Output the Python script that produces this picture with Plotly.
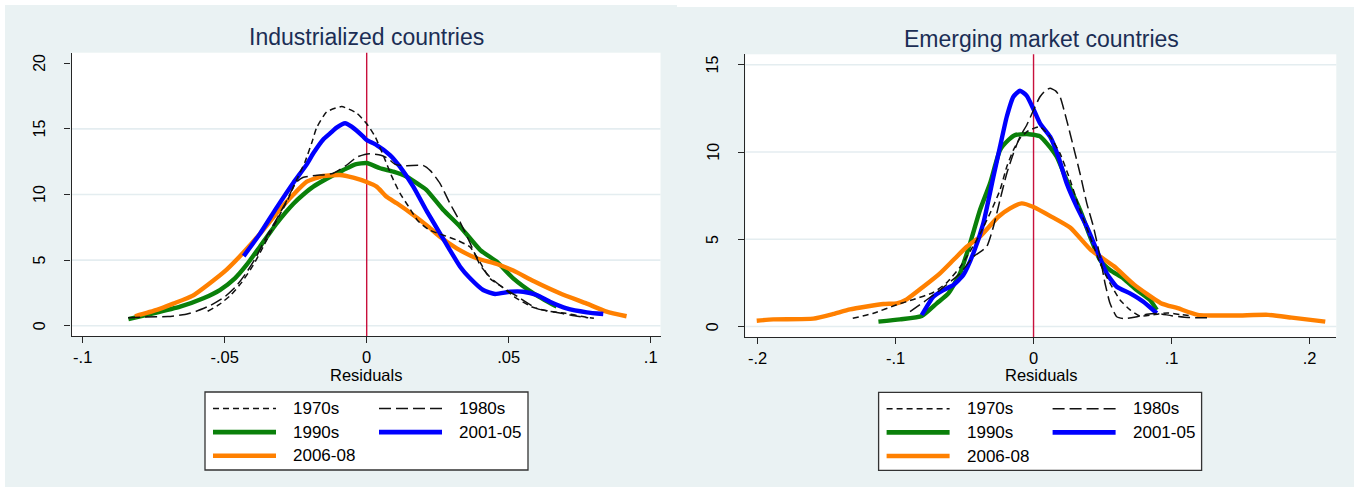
import plotly.graph_objects as go

W, H = 1354, 489

# ---------------- data ----------------
SERIES = ["1970s", "1980s", "1990s", "2001-05", "2006-08"]
COLORS = ["#111111", "#111111", "#0A800A", "#0000FF", "#FF8000"]
DASHES = ["6px,4px", "12px,5px", "solid", "solid", "solid"]
WIDTHS = [1.5, 1.5, 4.4, 4.4, 4.4]

# Industrialized countries
IND_X_1970 = [-0.056, -0.052, -0.048, -0.044, -0.040, -0.036, -0.032, -0.028, -0.0245, -0.0217, -0.0194,
              -0.0176, -0.0141, -0.0088, -0.0035, 0.0, 0.003, 0.006, 0.0088, 0.0117, 0.0147, 0.018, 0.022,
              0.027, 0.032, 0.0364, 0.040, 0.0434, 0.048, 0.052, 0.058, 0.064, 0.070, 0.076, 0.080]
IND_Y_1970 = [1.1, 1.6, 2.3, 3.3, 4.6, 6.2, 7.9, 9.5, 11.2, 12.5, 13.9, 15.1, 16.3, 16.7, 16.2, 15.4, 14.4,
              12.9, 11.4, 10.1, 9.1, 8.0, 7.3, 6.9, 6.5, 6.0, 4.8, 3.6, 2.9, 2.2, 1.45, 1.1, 0.95, 0.7, 0.56]
IND_X_1980 = [-0.084, -0.078, -0.070, -0.064, -0.060, -0.055, -0.050, -0.046, -0.0425, -0.039, -0.035,
              -0.031, -0.028, -0.025, -0.0225, -0.018, -0.012, -0.007, -0.0035, 0.001, 0.005, 0.0075, 0.010,
              0.014, 0.020, 0.0225, 0.0258, 0.0293, 0.0329, 0.0364, 0.040, 0.0434, 0.048, 0.054, 0.060,
              0.066, 0.072, 0.078]
IND_Y_1980 = [0.6, 0.66, 0.7, 0.85, 1.1, 1.55, 2.2, 3.0, 4.0, 5.2, 6.9, 8.4, 9.6, 10.9, 11.3, 11.45, 11.6,
              12.25, 12.85, 13.1, 13.0, 12.75, 12.3, 12.2, 12.2, 11.8, 10.85, 9.33, 7.9, 6.3, 4.6, 3.7, 2.9,
              2.1, 1.3, 1.05, 0.8, 0.6]
IND_X_1990 = [-0.0839, -0.0751, -0.0657, -0.0575, -0.0517, -0.0464, -0.0423, -0.0376, -0.0317, -0.0258,
              -0.0223, -0.0188, -0.0141, -0.0082, -0.004, 0.0, 0.0047, 0.0094, 0.0141, 0.0188, 0.0211,
              0.027, 0.0329, 0.040, 0.0458, 0.0516, 0.0587, 0.0669]
IND_Y_1990 = [0.5, 0.94, 1.45, 2.09, 2.72, 3.61, 4.63, 6.02, 7.8, 9.3, 10.0, 10.6, 11.2, 11.87, 12.3, 12.4,
              12.0, 11.74, 11.36, 10.7, 10.34, 8.82, 7.55, 5.77, 4.88, 3.61, 2.47, 1.45]
IND_X_2001 = [-0.0433, -0.0376, -0.0317, -0.0258, -0.0211, -0.0188, -0.0153, -0.0129, -0.0106, -0.0076,
              -0.0053, -0.0012, 0.0, 0.0035, 0.0082, 0.0117, 0.0164, 0.0211, 0.0258, 0.0293, 0.0329, 0.0364,
              0.041, 0.0452, 0.0505, 0.0551, 0.0599, 0.0645, 0.0704, 0.0775, 0.0833]
IND_Y_2001 = [5.3, 7.0, 9.0, 10.9, 12.3, 13.14, 14.2, 14.66, 15.1, 15.43, 15.17, 14.41, 14.15, 13.77, 13.01,
              12.12, 10.6, 8.75, 7.04, 5.77, 4.5, 3.61, 2.72, 2.42, 2.59, 2.59, 2.34, 1.83, 1.32, 1.02, 0.89]
IND_X_2006 = [-0.0816, -0.0739, -0.0681, -0.0614, -0.0558, -0.0493, -0.0434, -0.0376, -0.0317, -0.0258,
              -0.0211, -0.0153, -0.0094, -0.0047, 0.0, 0.0035, 0.007, 0.0106, 0.0164, 0.0217, 0.0258, 0.0317,
              0.0387, 0.0458, 0.0516, 0.0587, 0.068, 0.0775, 0.0845, 0.0915]
IND_Y_2006 = [0.72, 1.2, 1.68, 2.27, 3.15, 4.28, 5.58, 7.0, 8.57, 10.0, 10.98, 11.41, 11.49, 11.28, 10.95,
              10.6, 9.83, 9.33, 8.44, 7.55, 6.78, 5.9, 5.14, 4.7, 4.2, 3.4, 2.47, 1.68, 1.07, 0.72]

# Emerging market countries
EM_X_1970 = [-0.131, -0.116, -0.099, -0.087, -0.0727, -0.063, -0.0533, -0.046, -0.0388, -0.0315, -0.0243,
             -0.0194, -0.0146, -0.0098, -0.0049, 0.0, 0.0047, 0.012, 0.0192, 0.0265, 0.0337, 0.041, 0.0482,
             0.0554, 0.0627, 0.070, 0.0772, 0.087, 0.097, 0.107, 0.115]
EM_Y_1970 = [0.47, 0.76, 1.25, 1.55, 1.95, 2.5, 3.4, 4.3, 5.3, 6.49, 7.82, 9.16, 10.11, 10.78, 11.16, 11.35,
             11.45, 10.88, 9.92, 8.39, 6.68, 5.15, 3.62, 2.48, 1.52, 0.95, 0.6, 0.68, 0.78, 0.68, 0.6]
EM_X_1980 = [-0.0895, -0.0776, -0.0679, -0.0533, -0.0436, -0.034, -0.0291, -0.0243, -0.0194, -0.0146,
             -0.0098, -0.0049, 0.0, 0.0047, 0.009, 0.012, 0.016, 0.0192, 0.024, 0.0289, 0.0337, 0.0386,
             0.0434, 0.0482, 0.0518, 0.0554, 0.0603, 0.066, 0.074, 0.082, 0.090, 0.100, 0.112, 0.127]
EM_Y_1980 = [0.85, 1.52, 2.09, 3.04, 4.0, 4.57, 5.72, 7.25, 8.77, 9.92, 10.88, 11.55, 12.41, 13.17, 13.55,
             13.65, 13.5, 13.17, 11.83, 10.3, 8.77, 7.06, 5.72, 4.0, 2.48, 1.33, 0.56, 0.45, 0.55, 0.7, 0.75,
             0.62, 0.52, 0.5]
EM_X_1990 = [-0.1124, -0.0967, -0.081, -0.0701, -0.0617, -0.0533, -0.046, -0.0388, -0.0315, -0.0243,
             -0.0182, -0.0134, -0.0049, 0.0023, 0.0047, 0.0096, 0.0168, 0.024, 0.0337, 0.041, 0.0482, 0.0554,
             0.0651, 0.0748, 0.0844, 0.0893]
EM_Y_1990 = [0.28, 0.41, 0.6, 1.33, 1.9, 3.04, 4.77, 6.68, 8.21, 10.11, 10.69, 10.97, 11.03, 10.95, 10.9,
             10.5, 9.73, 8.39, 6.68, 5.15, 3.81, 3.24, 2.76, 2.09, 1.52, 0.95]
EM_X_2001 = [-0.081, -0.0726, -0.0654, -0.0581, -0.0509, -0.0436, -0.0364, -0.0291, -0.0243, -0.0194,
             -0.0146, -0.0098, -0.0049, 0.0, 0.0047, 0.012, 0.018, 0.024, 0.0313, 0.0386, 0.0458, 0.053,
             0.0603, 0.0699, 0.0796, 0.0893]
EM_Y_2001 = [0.66, 1.71, 2.09, 2.38, 2.95, 4.2, 5.91, 8.58, 10.3, 12.02, 13.17, 13.51, 13.22, 12.45, 11.64,
             10.88, 9.73, 8.21, 6.87, 5.72, 4.38, 3.05, 2.28, 1.9, 1.42, 0.76]
EM_X_2006 = [-0.2006, -0.1886, -0.1596, -0.145, -0.133, -0.1088, -0.0991, -0.0919, -0.0799, -0.0678,
             -0.0581, -0.0484, -0.0388, -0.0255, -0.017, -0.0086, 0.0, 0.0122, 0.0267, 0.0413, 0.0583, 0.0729,
             0.0923, 0.1045, 0.119, 0.1458, 0.170, 0.1871, 0.2114]
EM_Y_2006 = [0.33, 0.41, 0.45, 0.72, 0.98, 1.29, 1.33, 1.56, 2.28, 3.05, 3.81, 4.57, 5.15, 6.29, 6.77, 7.06,
             6.85, 6.33, 5.66, 4.41, 3.45, 2.4, 1.34, 1.05, 0.67, 0.63, 0.67, 0.51, 0.28]

PANELS = [
    {"title": "Industrialized countries",
     "xs": [IND_X_1970, IND_X_1980, IND_X_1990, IND_X_2001, IND_X_2006],
     "ys": [IND_Y_1970, IND_Y_1980, IND_Y_1990, IND_Y_2001, IND_Y_2006],
     "xticks": [-0.1, -0.05, 0, 0.05, 0.1], "xlabels": ["-.1", "-.05", "0", ".05", ".1"],
     "yticks": [0, 5, 10, 15, 20], "ylabels": ["0", "5", "10", "15", "20"],
     "grid": [0, 5, 10, 15]},
    {"title": "Emerging market countries",
     "xs": [EM_X_1970, EM_X_1980, EM_X_1990, EM_X_2001, EM_X_2006],
     "ys": [EM_Y_1970, EM_Y_1980, EM_Y_1990, EM_Y_2001, EM_Y_2006],
     "xticks": [-0.2, -0.1, 0, 0.1, 0.2], "xlabels": ["-.2", "-.1", "0", ".1", ".2"],
     "yticks": [0, 5, 10, 15], "ylabels": ["0", "5", "10", "15"],
     "grid": [0, 5, 10, 15]},
]
X_TITLE = "Residuals"

# ---------------- layout geometry (pixels) ----------------
GEOM = [
    {"px": (71.6, 660.5, 52.7, 336.0), "xr": (-0.1039, 0.10345), "yr": (-0.785, 20.81),
     "title_xy": (366.6, 37.3), "leg": (205.0, 392.0), "ylab_x": 39.5},
    {"px": (745.4, 1336.3, 54.3, 337.0), "xr": (-0.2088, 0.2194), "yr": (-0.60, 15.6),
     "title_xy": (1041.2, 39.0), "leg": (878.6, 392.3), "ylab_x": 712.7},
]

BG = "#EAF2F3"
FONT = "Liberation Sans, Arial, Helvetica, sans-serif"


def fx(p):
    return p / W


def fy(p):
    return 1 - p / H


fig = go.Figure()
shapes = []
annotations = []

# white outer margins of the graph regions
shapes.append(dict(type="rect", xref="paper", yref="paper", x0=0, x1=1, y0=fy(5), y1=1,
                   fillcolor="white", line_width=0, layer="below"))
shapes.append(dict(type="rect", xref="paper", yref="paper", x0=fx(677), x1=1, y0=fy(7), y1=1,
                   fillcolor="white", line_width=0, layer="below"))
shapes.append(dict(type="rect", xref="paper", yref="paper", x0=0, x1=fx(5), y0=0, y1=1,
                   fillcolor="white", line_width=0, layer="below"))
shapes.append(dict(type="rect", xref="paper", yref="paper", x0=0, x1=1, y0=0, y1=fy(487),
                   fillcolor="white", line_width=0, layer="below"))

for i, (panel, g) in enumerate(zip(PANELS, GEOM)):
    n = "" if i == 0 else str(i + 1)
    xa, ya = "x" + n, "y" + n
    l, r, t, b = g["px"]
    axis_common = dict(showgrid=False, zeroline=False, showline=True, linecolor="#262626", linewidth=1.3,
                       ticks="outside", ticklen=6, tickwidth=1.3, tickcolor="#262626")
    fig.update_layout(**{
        "xaxis" + n: dict(domain=[fx(l), fx(r)], range=list(g["xr"]), anchor=ya,
                          tickmode="array", tickvals=panel["xticks"], ticktext=panel["xlabels"],
                          ticklabelstandoff=0,
                          tickfont=dict(family=FONT, size=16.5, color="black"), **axis_common),
        "yaxis" + n: dict(domain=[fy(b), fy(t)], range=list(g["yr"]), anchor=xa,
                          tickmode="array", tickvals=panel["yticks"], showticklabels=False,
                          **axis_common),
    })
    # rotated y tick labels, placed through the y axis scale
    for tv, tl in zip(panel["yticks"], panel["ylabels"]):
        annotations.append(dict(text=tl, xref="paper", yref=ya, x=fx(g["ylab_x"]), y=tv,
                                xanchor="center", yanchor="middle", textangle=-90, showarrow=False,
                                font=dict(family=FONT, size=16, color="black")))
    # plot-region gridlines
    for gv in panel["grid"]:
        shapes.append(dict(type="line", xref=xa + " domain", yref=ya, x0=0, x1=1, y0=gv, y1=gv,
                           line=dict(color="#E4EDF0", width=1.6), layer="below"))
    # reference line at 0
    shapes.append(dict(type="line", xref=xa, yref=ya + " domain", x0=0, x1=0, y0=0, y1=1,
                       line=dict(color="#C8103C", width=1.4), layer="below"))

    order = [2, 4, 3, 1, 0]
    for k in order:
        fig.add_trace(go.Scatter(
            x=panel["xs"][k], y=panel["ys"][k], mode="lines", name=SERIES[k],
            line=dict(color=COLORS[k], width=WIDTHS[k], dash=DASHES[k], shape="spline", smoothing=0.5),
            xaxis=xa, yaxis=ya, hoverinfo="skip", showlegend=False))

    # panel title
    tx, ty = g["title_xy"]
    annotations.append(dict(text=panel["title"], xref="paper", yref="paper", x=fx(tx), y=fy(ty),
                            xanchor="center", yanchor="middle", showarrow=False,
                            font=dict(family=FONT, size=23, color="#1B2E55")))
    # x-axis title
    annotations.append(dict(text=X_TITLE, xref="paper", yref="paper", x=fx((l + r) / 2), y=fy(374.5),
                            xanchor="center", yanchor="middle", showarrow=False,
                            font=dict(family=FONT, size=16.5, color="black")))

    # legend (two columns, boxed)
    lx, ly = g["leg"]
    shapes.append(dict(type="rect", xref="paper", yref="paper", x0=fx(lx), x1=fx(lx + 323),
                       y0=fy(ly + 78), y1=fy(ly), fillcolor="white",
                       line=dict(color="#333333", width=1.3), layer="above"))
    for k, name in enumerate(SERIES):
        row, col = divmod(k, 2)
        ry = ly + 16.5 + row * 23.6
        cx = lx + 8 + col * 166
        shapes.append(dict(type="line", xref="paper", yref="paper", x0=fx(cx), x1=fx(cx + 63),
                           y0=fy(ry), y1=fy(ry),
                           line=dict(color=COLORS[k], width=WIDTHS[k] + (0.2 if k > 1 else 0),
                                     dash=DASHES[k]), layer="above"))
        annotations.append(dict(text=name, xref="paper", yref="paper", x=fx(cx + 78), y=fy(ry),
                                xanchor="left", yanchor="middle", showarrow=False,
                                font=dict(family=FONT, size=17, color="black")))

fig.update_layout(width=W, height=H, margin=dict(l=0, r=0, t=0, b=0),
                  paper_bgcolor=BG, plot_bgcolor="white", showlegend=False,
                  shapes=shapes, annotations=annotations)

fig.write_html("out.html", config={"displayModeBar": False},
               post_script="document.body.style.margin='0px';document.body.style.overflow='hidden';")
